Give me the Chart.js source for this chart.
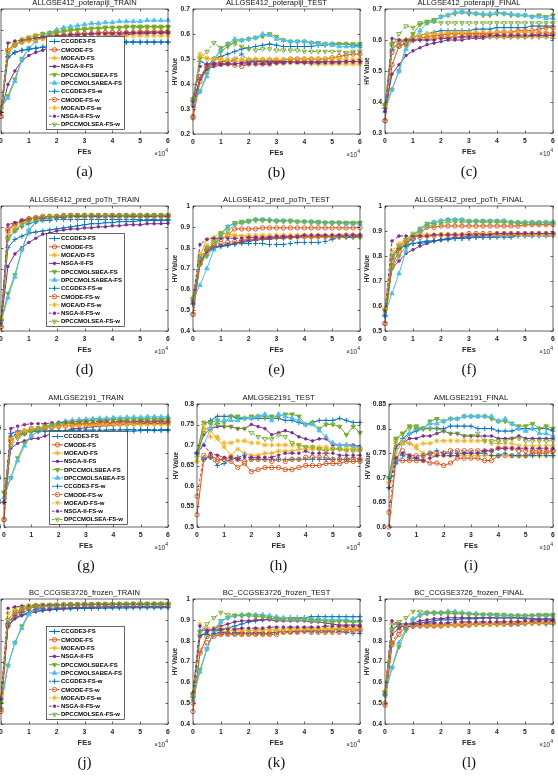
<!DOCTYPE html>
<html>
<head>
<meta charset="utf-8">
<script src="https://cdn.jsdelivr.net/npm/chart.js@4.4.0/dist/chart.umd.min.js"></script>
<style>
html, body { margin: 0; padding: 0; background: #fff; }
body { width: 558px; height: 778px; position: relative; overflow: hidden; }
canvas { position: absolute; }
</style>
</head>
<body>
<script>
// FEs axis (x 10^4)
const fes = [0, 0.25, 0.5, 0.75, 1, 1.25, 1.5, 1.75, 2, 2.25, 2.5, 2.75, 3, 3.25, 3.5, 3.75, 4, 4.25, 4.5, 4.75, 5, 5.25, 5.5, 5.75, 6];

const seriesNames = ['CCGDE3-FS', 'CMODE-FS', 'MOEA/D-FS', 'NSGA-II-FS', 'DPCCMOLSBEA-FS', 'DPCCMOLSABEA-FS',
  'CCGDE3-FS-w', 'CMODE-FS-w', 'MOEA/D-FS-w', 'NSGA-II-FS-w', 'DPCCMOLSEA-FS-w'];

const chartTitles = ['ALLGSE412_poterapiji_TRAIN', 'ALLGSE412_poterapiji_TEST', 'ALLGSE412_poterapiji_FINAL',
  'ALLGSE412_pred_poTh_TRAIN', 'ALLGSE412_pred_poTh_TEST', 'ALLGSE412_pred_poTh_FINAL',
  'AMLGSE2191_TRAIN', 'AMLGSE2191_TEST', 'AMLGSE2191_FINAL',
  'BC_CCGSE3726_frozen_TRAIN', 'BC_CCGSE3726_frozen_TEST', 'BC_CCGSE3726_frozen_FINAL'];
const panelLabels = ['(a)', '(b)', '(c)', '(d)', '(e)', '(f)', '(g)', '(h)', '(i)', '(j)', '(k)', '(l)'];

// y ticks: min, max, step
const yTicks = [[0.3, 0.9, 0.1], [0.2, 0.7, 0.1], [0.3, 0.7, 0.1],
  [0.4, 1, 0.1], [0.4, 1, 0.1], [0.5, 1, 0.1],
  [0.75, 1, 0.05], [0.5, 0.8, 0.05], [0.6, 0.85, 0.05],
  [0.4, 1, 0.1], [0.4, 1, 0.1], [0.4, 1, 0.1]];

// HV values, one row per series (same order as seriesNames)
const hvA = [
  [0.40,0.665,0.69,0.70,0.705, 0.71,0.715,0.72,0.725,0.725, 0.73,0.73,0.735,0.735,0.735, 0.735,0.74,0.74,0.74,0.74, 0.74,0.74,0.74,0.74,0.74],
  [0.38,0.70,0.73,0.745,0.755, 0.76,0.765,0.77,0.77,0.775, 0.775,0.78,0.78,0.78,0.785, 0.785,0.785,0.785,0.785,0.785, 0.79,0.79,0.79,0.79,0.79],
  [0.42,0.70,0.74,0.755,0.765, 0.775,0.78,0.785,0.79,0.795, 0.80,0.80,0.805,0.805,0.81, 0.81,0.81,0.81,0.815,0.815, 0.815,0.815,0.815,0.815,0.815],
  [0.40,0.535,0.60,0.65,0.675, 0.69,0.70,0.715,0.725,0.735, 0.745,0.75,0.755,0.76,0.765, 0.77,0.77,0.775,0.775,0.78, 0.78,0.78,0.785,0.785,0.785],
  [0.42,0.48,0.56,0.66,0.71, 0.745,0.765,0.775,0.785,0.79, 0.795,0.80,0.80,0.805,0.805, 0.81,0.81,0.81,0.815,0.815, 0.815,0.815,0.815,0.815,0.815],
  [0.42,0.47,0.55,0.655,0.71, 0.745,0.77,0.785,0.80,0.81, 0.815,0.82,0.825,0.83,0.83, 0.835,0.835,0.84,0.84,0.84, 0.84,0.845,0.845,0.845,0.845],
  [0.40,0.67,0.69,0.70,0.705, 0.71,0.715,0.72,0.725,0.73, 0.73,0.735,0.735,0.735,0.74, 0.74,0.74,0.74,0.74,0.74, 0.74,0.74,0.74,0.74,0.74],
  [0.38,0.70,0.725,0.74,0.75, 0.755,0.76,0.765,0.77,0.77, 0.775,0.775,0.78,0.78,0.78, 0.785,0.785,0.785,0.785,0.785, 0.785,0.785,0.785,0.785,0.785],
  [0.42,0.70,0.73,0.74,0.745, 0.75,0.755,0.755,0.76,0.76, 0.765,0.765,0.765,0.765,0.77, 0.77,0.77,0.77,0.77,0.77, 0.77,0.77,0.77,0.77,0.77],
  [0.40,0.735,0.745,0.75,0.755, 0.76,0.765,0.765,0.77,0.77, 0.775,0.775,0.775,0.78,0.78, 0.78,0.78,0.78,0.785,0.785, 0.785,0.785,0.785,0.785,0.785],
  [0.42,0.68,0.725,0.745,0.76, 0.77,0.78,0.785,0.79,0.795, 0.80,0.80,0.805,0.805,0.805, 0.81,0.81,0.81,0.81,0.81, 0.81,0.81,0.81,0.81,0.81]
];
const hvB = [
  [0.33,0.42,0.47,0.50,0.51, 0.52,0.53,0.54,0.545,0.55, 0.555,0.56,0.555,0.55,0.55, 0.55,0.55,0.55,0.555,0.555, 0.56,0.56,0.56,0.555,0.555],
  [0.265,0.41,0.46,0.48,0.49, 0.49,0.49,0.49,0.495,0.495, 0.495,0.495,0.495,0.495,0.50, 0.50,0.50,0.50,0.50,0.50, 0.505,0.51,0.515,0.52,0.52],
  [0.32,0.51,0.50,0.50,0.50, 0.49,0.49,0.49,0.49,0.49, 0.485,0.485,0.485,0.485,0.485, 0.485,0.485,0.48,0.48,0.48, 0.48,0.48,0.48,0.48,0.48],
  [0.31,0.42,0.46,0.47,0.475, 0.48,0.48,0.485,0.485,0.49, 0.49,0.49,0.49,0.49,0.49, 0.49,0.49,0.49,0.49,0.49, 0.49,0.49,0.49,0.49,0.49],
  [0.33,0.37,0.44,0.50,0.53, 0.55,0.57,0.575,0.58,0.585, 0.59,0.60,0.59,0.575,0.57, 0.57,0.57,0.565,0.565,0.56, 0.56,0.56,0.56,0.56,0.56],
  [0.32,0.37,0.43,0.50,0.54, 0.56,0.58,0.575,0.58,0.585, 0.60,0.595,0.58,0.575,0.57, 0.57,0.57,0.565,0.56,0.56, 0.555,0.55,0.55,0.55,0.55],
  [0.34,0.49,0.48,0.48,0.48, 0.485,0.50,0.52,0.49,0.49, 0.49,0.485,0.485,0.49,0.49, 0.49,0.485,0.485,0.485,0.49, 0.49,0.49,0.49,0.49,0.49],
  [0.27,0.43,0.47,0.48,0.48, 0.48,0.475,0.47,0.48,0.48, 0.48,0.48,0.485,0.485,0.49, 0.49,0.49,0.49,0.49,0.49, 0.49,0.49,0.49,0.49,0.49],
  [0.33,0.52,0.505,0.50,0.50, 0.50,0.50,0.50,0.50,0.50, 0.50,0.50,0.50,0.50,0.50, 0.50,0.50,0.50,0.50,0.50, 0.50,0.50,0.50,0.50,0.50],
  [0.33,0.47,0.48,0.48,0.48, 0.48,0.48,0.48,0.48,0.48, 0.48,0.48,0.485,0.485,0.485, 0.485,0.485,0.485,0.485,0.485, 0.485,0.485,0.49,0.49,0.49],
  [0.34,0.50,0.53,0.565,0.545, 0.56,0.56,0.55,0.54,0.535, 0.54,0.54,0.535,0.535,0.535, 0.535,0.53,0.53,0.53,0.53, 0.53,0.53,0.525,0.53,0.53]
];
const hvC = [
  [0.38,0.57,0.59,0.60,0.61, 0.615,0.62,0.625,0.63,0.63, 0.63,0.63,0.63,0.635,0.635, 0.635,0.64,0.64,0.64,0.64, 0.64,0.645,0.645,0.645,0.645],
  [0.34,0.52,0.58,0.59,0.60, 0.605,0.61,0.615,0.615,0.62, 0.62,0.62,0.62,0.62,0.62, 0.62,0.625,0.625,0.625,0.63, 0.63,0.63,0.635,0.64,0.64],
  [0.39,0.59,0.60,0.60,0.61, 0.615,0.62,0.62,0.62,0.625, 0.625,0.625,0.625,0.625,0.625, 0.625,0.625,0.625,0.625,0.625, 0.625,0.625,0.625,0.625,0.625],
  [0.37,0.49,0.52,0.55,0.565, 0.575,0.585,0.59,0.595,0.60, 0.60,0.60,0.605,0.605,0.605, 0.61,0.61,0.61,0.61,0.61, 0.61,0.615,0.615,0.615,0.615],
  [0.39,0.44,0.50,0.58,0.62, 0.65,0.66,0.665,0.675,0.68, 0.685,0.69,0.685,0.685,0.68, 0.68,0.685,0.685,0.68,0.68, 0.68,0.675,0.68,0.675,0.68],
  [0.37,0.44,0.50,0.57,0.60, 0.63,0.655,0.66,0.675,0.68, 0.69,0.69,0.69,0.685,0.685, 0.685,0.69,0.685,0.685,0.68, 0.68,0.675,0.675,0.67,0.67],
  [0.38,0.59,0.595,0.60,0.60, 0.60,0.60,0.605,0.605,0.61, 0.61,0.61,0.61,0.61,0.61, 0.61,0.61,0.61,0.61,0.61, 0.61,0.61,0.61,0.61,0.605],
  [0.34,0.56,0.58,0.59,0.60, 0.605,0.605,0.605,0.61,0.61, 0.61,0.61,0.615,0.615,0.615, 0.615,0.615,0.615,0.615,0.615, 0.615,0.615,0.62,0.62,0.62],
  [0.39,0.585,0.595,0.60,0.60, 0.605,0.605,0.605,0.605,0.61, 0.61,0.61,0.61,0.61,0.61, 0.61,0.61,0.61,0.61,0.61, 0.61,0.61,0.61,0.61,0.61],
  [0.37,0.605,0.60,0.60,0.60, 0.60,0.60,0.60,0.605,0.605, 0.605,0.61,0.61,0.61,0.61, 0.615,0.615,0.615,0.615,0.615, 0.615,0.615,0.615,0.615,0.615],
  [0.39,0.58,0.62,0.645,0.64, 0.655,0.655,0.66,0.655,0.655, 0.655,0.655,0.655,0.655,0.655, 0.655,0.655,0.655,0.655,0.655, 0.655,0.655,0.655,0.655,0.655]
];
const hvD = [
  [0.45,0.80,0.84,0.855,0.87, 0.875,0.88,0.885,0.89,0.895, 0.90,0.905,0.91,0.915,0.915, 0.92,0.92,0.925,0.925,0.925, 0.93,0.93,0.93,0.93,0.93],
  [0.42,0.89,0.915,0.93,0.94, 0.945,0.95,0.95,0.95,0.955, 0.955,0.955,0.955,0.955,0.955, 0.955,0.955,0.955,0.955,0.955, 0.955,0.955,0.955,0.955,0.955],
  [0.46,0.84,0.88,0.91,0.925, 0.935,0.94,0.945,0.945,0.95, 0.95,0.95,0.95,0.95,0.95, 0.95,0.95,0.95,0.95,0.95, 0.95,0.95,0.95,0.95,0.95],
  [0.44,0.71,0.77,0.80,0.825, 0.845,0.865,0.87,0.88,0.885, 0.89,0.89,0.895,0.895,0.90, 0.90,0.905,0.905,0.91,0.91, 0.91,0.915,0.915,0.915,0.917],
  [0.45,0.58,0.67,0.79,0.88, 0.925,0.94,0.945,0.95,0.95, 0.955,0.955,0.955,0.955,0.955, 0.955,0.955,0.955,0.955,0.955, 0.955,0.955,0.955,0.955,0.955],
  [0.44,0.56,0.66,0.79,0.885, 0.925,0.935,0.94,0.945,0.945, 0.95,0.95,0.95,0.95,0.95, 0.95,0.95,0.95,0.95,0.95, 0.95,0.95,0.95,0.95,0.95],
  [0.45,0.85,0.88,0.90,0.915, 0.925,0.93,0.93,0.935,0.935, 0.935,0.935,0.935,0.935,0.935, 0.935,0.935,0.935,0.935,0.935, 0.935,0.935,0.935,0.935,0.935],
  [0.42,0.88,0.91,0.925,0.935, 0.94,0.945,0.95,0.95,0.95, 0.953,0.953,0.953,0.953,0.953, 0.953,0.953,0.953,0.953,0.953, 0.953,0.953,0.953,0.953,0.953],
  [0.46,0.86,0.895,0.915,0.93, 0.935,0.94,0.945,0.945,0.945, 0.948,0.948,0.948,0.948,0.948, 0.948,0.948,0.948,0.948,0.948, 0.948,0.948,0.948,0.948,0.948],
  [0.44,0.91,0.92,0.93,0.935, 0.94,0.94,0.945,0.945,0.945, 0.95,0.95,0.95,0.95,0.95, 0.95,0.95,0.95,0.95,0.95, 0.95,0.95,0.95,0.95,0.95],
  [0.45,0.84,0.885,0.91,0.93, 0.94,0.945,0.945,0.95,0.95, 0.955,0.955,0.955,0.955,0.955, 0.955,0.955,0.955,0.955,0.955, 0.955,0.955,0.955,0.955,0.955]
];
const hvE = [
  [0.53,0.72,0.78,0.80,0.805, 0.81,0.82,0.825,0.83,0.835, 0.84,0.84,0.845,0.845,0.85, 0.85,0.85,0.85,0.85,0.855, 0.855,0.855,0.855,0.855,0.855],
  [0.48,0.72,0.79,0.82,0.84, 0.86,0.89,0.89,0.89,0.89, 0.895,0.895,0.895,0.895,0.895, 0.895,0.895,0.895,0.895,0.895, 0.895,0.895,0.895,0.895,0.897],
  [0.56,0.76,0.84,0.85,0.87, 0.865,0.86,0.855,0.85,0.85, 0.85,0.85,0.85,0.85,0.85, 0.85,0.85,0.85,0.85,0.85, 0.85,0.85,0.85,0.85,0.85],
  [0.54,0.73,0.78,0.80,0.81, 0.815,0.82,0.83,0.835,0.84, 0.845,0.845,0.85,0.85,0.85, 0.85,0.855,0.855,0.855,0.855, 0.855,0.855,0.855,0.855,0.855],
  [0.55,0.72,0.76,0.80,0.87, 0.90,0.92,0.925,0.93,0.935, 0.935,0.93,0.93,0.93,0.93, 0.925,0.925,0.925,0.925,0.92, 0.92,0.92,0.92,0.92,0.92],
  [0.55,0.62,0.70,0.79,0.86, 0.90,0.915,0.92,0.925,0.935, 0.935,0.935,0.93,0.93,0.93, 0.925,0.925,0.925,0.92,0.92, 0.92,0.92,0.915,0.915,0.915],
  [0.53,0.75,0.79,0.80,0.81, 0.815,0.815,0.82,0.82,0.82, 0.82,0.815,0.815,0.815,0.82, 0.825,0.825,0.825,0.825,0.83, 0.84,0.85,0.85,0.85,0.85],
  [0.48,0.73,0.79,0.81,0.82, 0.825,0.83,0.835,0.84,0.845, 0.845,0.85,0.85,0.85,0.85, 0.855,0.855,0.855,0.855,0.855, 0.855,0.855,0.86,0.86,0.86],
  [0.56,0.77,0.81,0.84,0.85, 0.85,0.855,0.855,0.86,0.86, 0.86,0.86,0.86,0.86,0.86, 0.86,0.86,0.86,0.86,0.86, 0.86,0.86,0.86,0.86,0.86],
  [0.54,0.815,0.84,0.845,0.845, 0.845,0.845,0.845,0.85,0.85, 0.85,0.85,0.855,0.855,0.855, 0.855,0.86,0.86,0.86,0.86, 0.86,0.86,0.86,0.86,0.86],
  [0.55,0.75,0.80,0.83,0.86, 0.88,0.91,0.92,0.925,0.93, 0.93,0.93,0.925,0.925,0.925, 0.925,0.925,0.92,0.92,0.92, 0.92,0.92,0.92,0.92,0.92]
];
const hvF = [
  [0.56,0.80,0.83,0.845,0.85, 0.855,0.86,0.86,0.865,0.865, 0.87,0.87,0.875,0.875,0.875, 0.875,0.88,0.88,0.88,0.885, 0.885,0.885,0.89,0.89,0.89],
  [0.53,0.76,0.82,0.85,0.87, 0.89,0.915,0.915,0.92,0.92, 0.92,0.92,0.92,0.92,0.92, 0.92,0.92,0.92,0.92,0.92, 0.925,0.925,0.925,0.925,0.925],
  [0.59,0.80,0.84,0.86,0.88, 0.885,0.885,0.885,0.885,0.885, 0.885,0.885,0.885,0.885,0.885, 0.885,0.885,0.885,0.885,0.885, 0.885,0.885,0.885,0.885,0.885],
  [0.58,0.75,0.78,0.81,0.825, 0.84,0.85,0.86,0.865,0.87, 0.875,0.875,0.88,0.88,0.88, 0.885,0.885,0.885,0.885,0.885, 0.89,0.89,0.89,0.89,0.89],
  [0.58,0.75,0.80,0.84,0.88, 0.91,0.93,0.935,0.94,0.945, 0.945,0.945,0.94,0.94,0.94, 0.94,0.94,0.94,0.935,0.935, 0.935,0.935,0.935,0.935,0.935],
  [0.57,0.65,0.73,0.82,0.87, 0.905,0.925,0.935,0.94,0.945, 0.945,0.945,0.94,0.94,0.94, 0.94,0.94,0.94,0.935,0.935, 0.935,0.935,0.935,0.935,0.935],
  [0.56,0.79,0.83,0.84,0.85, 0.85,0.855,0.86,0.865,0.87, 0.87,0.87,0.87,0.875,0.875, 0.875,0.875,0.875,0.875,0.88, 0.88,0.88,0.88,0.88,0.88],
  [0.53,0.78,0.83,0.86,0.87, 0.875,0.88,0.88,0.885,0.885, 0.885,0.885,0.89,0.89,0.89, 0.89,0.89,0.89,0.89,0.89, 0.89,0.89,0.89,0.89,0.89],
  [0.59,0.82,0.85,0.87,0.88, 0.88,0.885,0.885,0.885,0.885, 0.885,0.885,0.885,0.885,0.885, 0.885,0.885,0.885,0.885,0.885, 0.885,0.885,0.885,0.885,0.885],
  [0.58,0.86,0.88,0.88,0.88, 0.88,0.88,0.885,0.885,0.885, 0.885,0.885,0.885,0.885,0.885, 0.885,0.89,0.89,0.89,0.89, 0.89,0.89,0.89,0.89,0.89],
  [0.58,0.80,0.84,0.865,0.89, 0.90,0.92,0.925,0.93,0.935, 0.935,0.935,0.935,0.935,0.935, 0.935,0.935,0.935,0.935,0.93, 0.93,0.93,0.93,0.93,0.93]
];
const hvG = [
  [0.80,0.94,0.945,0.945,0.945, 0.945,0.945,0.945,0.945,0.945, 0.945,0.945,0.945,0.945,0.945, 0.945,0.945,0.945,0.945,0.945, 0.946,0.946,0.946,0.946,0.946],
  [0.765,0.93,0.94,0.945,0.95, 0.95,0.955,0.955,0.955,0.96, 0.96,0.96,0.96,0.96,0.962, 0.962,0.962,0.964,0.964,0.964, 0.965,0.965,0.965,0.965,0.965],
  [0.80,0.93,0.94,0.945,0.95, 0.95,0.955,0.955,0.955,0.957, 0.957,0.957,0.958,0.958,0.958, 0.958,0.959,0.959,0.959,0.959, 0.959,0.959,0.959,0.959,0.959],
  [0.80,0.91,0.92,0.925,0.93, 0.93,0.935,0.94,0.945,0.945, 0.95,0.95,0.952,0.954,0.955, 0.956,0.957,0.958,0.958,0.959, 0.96,0.96,0.96,0.96,0.96],
  [0.82,0.85,0.89,0.92,0.935, 0.945,0.95,0.955,0.96,0.962, 0.964,0.965,0.966,0.967,0.968, 0.968,0.969,0.969,0.97,0.97, 0.97,0.97,0.97,0.97,0.97],
  [0.81,0.85,0.885,0.915,0.935, 0.945,0.952,0.958,0.962,0.965, 0.967,0.968,0.969,0.97,0.971, 0.971,0.972,0.972,0.973,0.973, 0.973,0.974,0.974,0.974,0.974],
  [0.80,0.935,0.94,0.94,0.945, 0.945,0.945,0.946,0.946,0.946, 0.947,0.947,0.947,0.947,0.947, 0.947,0.948,0.948,0.948,0.948, 0.948,0.948,0.948,0.948,0.948],
  [0.765,0.925,0.935,0.94,0.945, 0.95,0.95,0.952,0.955,0.955, 0.957,0.958,0.958,0.96,0.96, 0.96,0.96,0.96,0.962,0.962, 0.962,0.962,0.962,0.962,0.962],
  [0.80,0.93,0.94,0.945,0.948, 0.95,0.952,0.953,0.954,0.955, 0.955,0.956,0.956,0.957,0.957, 0.957,0.958,0.958,0.958,0.958, 0.958,0.958,0.958,0.958,0.958],
  [0.80,0.95,0.955,0.958,0.96, 0.96,0.96,0.962,0.962,0.963, 0.963,0.964,0.964,0.964,0.965, 0.965,0.965,0.965,0.965,0.965, 0.965,0.965,0.965,0.965,0.965],
  [0.82,0.915,0.93,0.94,0.945, 0.95,0.955,0.958,0.96,0.962, 0.963,0.964,0.965,0.965,0.966, 0.966,0.967,0.967,0.967,0.967, 0.968,0.968,0.968,0.968,0.968]
];
const hvH = [
  [0.68,0.75,0.76,0.77,0.77, 0.77,0.765,0.765,0.765,0.765, 0.765,0.765,0.765,0.76,0.76, 0.755,0.75,0.755,0.76,0.76, 0.76,0.765,0.76,0.755,0.755],
  [0.53,0.665,0.675,0.665,0.665, 0.66,0.645,0.655,0.635,0.64, 0.645,0.645,0.645,0.64,0.64, 0.645,0.65,0.65,0.65,0.655, 0.655,0.655,0.66,0.66,0.66],
  [0.66,0.74,0.735,0.715,0.695, 0.675,0.69,0.68,0.675,0.675, 0.68,0.68,0.685,0.685,0.685, 0.69,0.69,0.69,0.69,0.69, 0.69,0.69,0.69,0.69,0.69],
  [0.68,0.725,0.74,0.745,0.745, 0.745,0.74,0.74,0.75,0.745, 0.74,0.725,0.73,0.735,0.73, 0.72,0.715,0.71,0.715,0.715, 0.70,0.70,0.70,0.70,0.695],
  [0.68,0.755,0.755,0.76,0.755, 0.77,0.77,0.765,0.77,0.77, 0.77,0.77,0.77,0.775,0.775, 0.77,0.75,0.755,0.74,0.75, 0.75,0.745,0.725,0.745,0.73],
  [0.68,0.70,0.74,0.755,0.76, 0.76,0.76,0.765,0.765,0.77, 0.775,0.76,0.775,0.77,0.765, 0.76,0.75,0.75,0.735,0.72, 0.705,0.70,0.70,0.695,0.695],
  [0.68,0.665,0.67,0.65,0.655, 0.665,0.67,0.675,0.665,0.665, 0.665,0.665,0.665,0.665,0.665, 0.665,0.665,0.665,0.665,0.665, 0.665,0.665,0.665,0.67,0.665],
  [0.575,0.675,0.67,0.66,0.665, 0.67,0.665,0.66,0.665,0.665, 0.665,0.66,0.665,0.66,0.665, 0.665,0.67,0.67,0.67,0.67, 0.665,0.665,0.665,0.665,0.665],
  [0.66,0.75,0.72,0.72,0.705, 0.705,0.71,0.71,0.705,0.705, 0.70,0.70,0.70,0.70,0.70, 0.70,0.695,0.695,0.695,0.695, 0.69,0.69,0.69,0.69,0.69],
  [0.68,0.70,0.68,0.675,0.67, 0.67,0.665,0.67,0.67,0.67, 0.67,0.67,0.675,0.68,0.68, 0.68,0.685,0.68,0.68,0.68, 0.68,0.675,0.675,0.675,0.675],
  [0.67,0.73,0.75,0.75,0.745, 0.745,0.74,0.74,0.73,0.72, 0.715,0.715,0.725,0.72,0.705, 0.70,0.695,0.695,0.69,0.685, 0.69,0.69,0.685,0.685,0.685]
];
const hvI = [
  [0.68,0.76,0.78,0.79,0.795, 0.80,0.80,0.80,0.80,0.805, 0.805,0.805,0.805,0.80,0.80, 0.80,0.795,0.795,0.795,0.80, 0.80,0.80,0.80,0.80,0.795],
  [0.60,0.735,0.735,0.735,0.735, 0.735,0.73,0.73,0.725,0.73, 0.74,0.74,0.74,0.74,0.735, 0.735,0.745,0.745,0.745,0.745, 0.745,0.75,0.75,0.75,0.755],
  [0.69,0.75,0.775,0.77,0.76, 0.75,0.745,0.745,0.745,0.745, 0.745,0.745,0.745,0.745,0.745, 0.745,0.745,0.745,0.745,0.745, 0.745,0.745,0.745,0.745,0.745],
  [0.70,0.765,0.77,0.78,0.78, 0.785,0.785,0.79,0.795,0.79, 0.79,0.785,0.785,0.785,0.785, 0.785,0.78,0.78,0.78,0.785, 0.78,0.78,0.78,0.78,0.78],
  [0.70,0.78,0.79,0.805,0.805, 0.80,0.815,0.82,0.815,0.82, 0.82,0.825,0.825,0.825,0.825, 0.82,0.815,0.815,0.81,0.805, 0.805,0.81,0.80,0.805,0.80],
  [0.70,0.73,0.77,0.79,0.80, 0.80,0.81,0.81,0.815,0.82, 0.82,0.825,0.825,0.825,0.825, 0.825,0.815,0.82,0.81,0.80, 0.795,0.80,0.79,0.79,0.785],
  [0.68,0.73,0.745,0.74,0.74, 0.745,0.75,0.755,0.75,0.75, 0.75,0.75,0.75,0.75,0.75, 0.745,0.745,0.75,0.745,0.745, 0.745,0.745,0.745,0.745,0.745],
  [0.63,0.74,0.755,0.745,0.745, 0.745,0.75,0.75,0.75,0.755, 0.755,0.755,0.755,0.755,0.755, 0.755,0.76,0.76,0.76,0.755, 0.755,0.755,0.755,0.755,0.755],
  [0.69,0.77,0.77,0.77,0.765, 0.77,0.77,0.775,0.775,0.775, 0.775,0.775,0.775,0.775,0.775, 0.77,0.77,0.77,0.77,0.765, 0.765,0.765,0.765,0.765,0.765],
  [0.68,0.74,0.75,0.745,0.74, 0.735,0.74,0.745,0.745,0.745, 0.745,0.75,0.75,0.75,0.755, 0.755,0.76,0.76,0.76,0.76, 0.76,0.76,0.76,0.76,0.76],
  [0.70,0.775,0.79,0.80,0.80, 0.80,0.80,0.80,0.795,0.79, 0.79,0.785,0.785,0.79,0.775, 0.775,0.775,0.775,0.78,0.78, 0.775,0.775,0.775,0.775,0.775]
];
const hvJ = [
  [0.52,0.87,0.91,0.925,0.935, 0.94,0.945,0.948,0.95,0.952, 0.953,0.954,0.955,0.955,0.956, 0.956,0.957,0.957,0.957,0.958, 0.958,0.958,0.958,0.958,0.958],
  [0.46,0.88,0.93,0.95,0.96, 0.965,0.967,0.969,0.97,0.971, 0.972,0.972,0.973,0.973,0.974, 0.974,0.974,0.975,0.975,0.975, 0.975,0.975,0.975,0.975,0.975],
  [0.53,0.90,0.94,0.955,0.962, 0.966,0.969,0.97,0.971,0.972, 0.973,0.973,0.974,0.974,0.974, 0.975,0.975,0.975,0.975,0.975, 0.975,0.975,0.975,0.975,0.975],
  [0.52,0.87,0.905,0.92,0.93, 0.94,0.945,0.95,0.952,0.955, 0.957,0.958,0.96,0.96,0.961, 0.962,0.962,0.963,0.963,0.963, 0.964,0.964,0.964,0.964,0.964],
  [0.50,0.68,0.79,0.87,0.93, 0.955,0.965,0.968,0.97,0.972, 0.973,0.974,0.975,0.975,0.976, 0.976,0.977,0.977,0.977,0.978, 0.978,0.978,0.978,0.978,0.978],
  [0.48,0.68,0.79,0.86,0.925, 0.95,0.962,0.966,0.969,0.971, 0.972,0.973,0.974,0.974,0.975, 0.975,0.976,0.976,0.976,0.977, 0.977,0.977,0.977,0.977,0.977],
  [0.52,0.88,0.92,0.935,0.945, 0.95,0.953,0.955,0.957,0.958, 0.959,0.96,0.96,0.961,0.961, 0.962,0.962,0.962,0.963,0.963, 0.963,0.963,0.963,0.963,0.963],
  [0.47,0.87,0.925,0.945,0.955, 0.962,0.965,0.967,0.968,0.969, 0.97,0.971,0.971,0.972,0.972, 0.972,0.973,0.973,0.973,0.973, 0.973,0.973,0.973,0.973,0.973],
  [0.53,0.93,0.955,0.965,0.97, 0.972,0.973,0.974,0.974,0.975, 0.975,0.975,0.975,0.975,0.976, 0.976,0.976,0.976,0.976,0.976, 0.976,0.976,0.976,0.976,0.976],
  [0.52,0.955,0.962,0.966,0.968, 0.97,0.971,0.972,0.972,0.973, 0.973,0.973,0.974,0.974,0.974, 0.974,0.974,0.974,0.975,0.975, 0.975,0.975,0.975,0.975,0.975],
  [0.50,0.90,0.94,0.958,0.965, 0.969,0.971,0.972,0.973,0.974, 0.975,0.975,0.976,0.976,0.976, 0.977,0.977,0.977,0.977,0.977, 0.977,0.977,0.977,0.977,0.977]
];
const hvK = [
  [0.53,0.85,0.85,0.85,0.85, 0.86,0.87,0.88,0.89,0.895, 0.90,0.905,0.905,0.905,0.91, 0.91,0.91,0.915,0.915,0.915, 0.915,0.915,0.915,0.915,0.915],
  [0.46,0.74,0.82,0.83,0.835, 0.835,0.835,0.835,0.835,0.835, 0.835,0.835,0.84,0.845,0.845, 0.845,0.85,0.85,0.85,0.85, 0.85,0.855,0.855,0.855,0.855],
  [0.54,0.82,0.85,0.845,0.84, 0.845,0.85,0.85,0.85,0.85, 0.855,0.855,0.855,0.855,0.86, 0.86,0.86,0.86,0.86,0.86, 0.86,0.86,0.86,0.865,0.865],
  [0.55,0.82,0.84,0.86,0.87, 0.88,0.89,0.895,0.895,0.90, 0.90,0.90,0.895,0.895,0.895, 0.895,0.895,0.89,0.89,0.885, 0.88,0.875,0.875,0.875,0.875],
  [0.54,0.66,0.76,0.85,0.895, 0.91,0.92,0.92,0.92,0.915, 0.915,0.91,0.905,0.905,0.905, 0.905,0.905,0.90,0.90,0.895, 0.895,0.895,0.895,0.89,0.89],
  [0.52,0.65,0.76,0.84,0.89, 0.91,0.92,0.925,0.925,0.925, 0.925,0.92,0.915,0.91,0.905, 0.905,0.905,0.90,0.90,0.90, 0.90,0.90,0.90,0.895,0.895],
  [0.53,0.83,0.83,0.835,0.84, 0.84,0.84,0.84,0.84,0.84, 0.84,0.84,0.84,0.845,0.845, 0.845,0.845,0.845,0.845,0.845, 0.845,0.845,0.84,0.835,0.835],
  [0.50,0.75,0.79,0.82,0.83, 0.83,0.83,0.83,0.83,0.83, 0.83,0.83,0.83,0.84,0.84, 0.84,0.845,0.84,0.84,0.84, 0.84,0.84,0.845,0.845,0.85],
  [0.54,0.88,0.86,0.86,0.86, 0.86,0.855,0.85,0.85,0.85, 0.85,0.85,0.85,0.85,0.85, 0.855,0.855,0.855,0.855,0.855, 0.855,0.86,0.86,0.86,0.86],
  [0.55,0.87,0.85,0.855,0.855, 0.855,0.855,0.86,0.86,0.86, 0.86,0.865,0.865,0.865,0.865, 0.865,0.865,0.865,0.865,0.87, 0.87,0.87,0.87,0.87,0.87],
  [0.54,0.84,0.88,0.91,0.935, 0.925,0.92,0.92,0.925,0.92, 0.915,0.91,0.905,0.90,0.90, 0.90,0.90,0.895,0.895,0.89, 0.89,0.89,0.89,0.89,0.89]
];
const hvL = [
  [0.54,0.88,0.88,0.88,0.88, 0.885,0.89,0.895,0.90,0.90, 0.90,0.905,0.905,0.905,0.91, 0.91,0.91,0.91,0.91,0.91, 0.905,0.905,0.90,0.90,0.90],
  [0.49,0.78,0.83,0.865,0.87, 0.87,0.87,0.87,0.87,0.875, 0.875,0.875,0.875,0.88,0.88, 0.88,0.88,0.88,0.88,0.88, 0.885,0.885,0.885,0.885,0.885],
  [0.55,0.85,0.875,0.875,0.875, 0.88,0.88,0.88,0.88,0.88, 0.88,0.885,0.885,0.885,0.885, 0.885,0.885,0.89,0.89,0.89, 0.89,0.89,0.89,0.89,0.89],
  [0.55,0.83,0.86,0.875,0.885, 0.895,0.90,0.905,0.905,0.91, 0.91,0.91,0.91,0.91,0.91, 0.91,0.91,0.91,0.91,0.91, 0.91,0.905,0.905,0.905,0.905],
  [0.55,0.67,0.77,0.85,0.90, 0.92,0.93,0.93,0.93,0.93, 0.93,0.93,0.93,0.925,0.925, 0.925,0.925,0.92,0.92,0.92, 0.92,0.92,0.925,0.925,0.925],
  [0.54,0.67,0.79,0.86,0.905, 0.925,0.935,0.935,0.935,0.94, 0.94,0.935,0.93,0.93,0.925, 0.925,0.92,0.92,0.92,0.92, 0.92,0.92,0.92,0.92,0.92],
  [0.54,0.86,0.87,0.87,0.87, 0.875,0.875,0.875,0.875,0.875, 0.875,0.875,0.88,0.88,0.88, 0.88,0.88,0.88,0.88,0.88, 0.88,0.885,0.885,0.88,0.88],
  [0.50,0.79,0.85,0.865,0.87, 0.875,0.875,0.875,0.875,0.875, 0.875,0.875,0.875,0.88,0.88, 0.88,0.88,0.88,0.88,0.885, 0.885,0.885,0.885,0.885,0.89],
  [0.56,0.88,0.88,0.875,0.875, 0.875,0.875,0.875,0.875,0.875, 0.875,0.88,0.88,0.88,0.88, 0.88,0.88,0.88,0.885,0.885, 0.885,0.885,0.885,0.885,0.885],
  [0.55,0.895,0.88,0.88,0.88, 0.88,0.885,0.885,0.885,0.885, 0.89,0.89,0.89,0.89,0.89, 0.89,0.89,0.89,0.89,0.89, 0.895,0.895,0.895,0.895,0.895],
  [0.55,0.85,0.89,0.91,0.94, 0.94,0.935,0.935,0.935,0.935, 0.93,0.93,0.925,0.925,0.925, 0.925,0.925,0.925,0.92,0.92, 0.92,0.92,0.92,0.92,0.92]
];
const hvAll = [hvA, hvB, hvC, hvD, hvE, hvF, hvG, hvH, hvI, hvJ, hvK, hvL];

// plot-area rectangles in page pixels: left, right, top, bottom
const plotBoxes = [
  [1, 168, 9, 133], [193, 360, 9, 134], [385, 553, 9, 133],
  [1, 168, 206, 331], [193, 360, 206, 331], [385, 553, 206, 331],
  [4, 168, 404, 527], [197, 360, 404, 527], [389, 553, 404, 527],
  [1, 168, 599, 724], [193, 360, 599, 724], [385, 553, 599, 724]
];

// MATLAB-like line styles
const lineColors = ['#0072BD', '#D95319', '#EDB120', '#7E2F8E', '#77AC30', '#4DBEEE',
  '#0072BD', '#D95319', '#EDB120', '#7E2F8E', '#77AC30'];
const markers = ['cross', 'circle', 'star', 'circle', 'triangle', 'triangle', 'cross', 'circle', 'star', 'circle', 'triangle'];
const markerRot = [0, 0, 0, 0, 180, 0, 0, 0, 0, 0, 180];
const markerSize = [2.6, 2.2, 2.6, 1.3, 2.6, 2.6, 2.6, 2.2, 2.6, 1.3, 2.6];
const markerFilled = [false, false, false, true, true, true, false, false, false, true, false];

const FONT = '"Liberation Sans", Arial, sans-serif';
const AX = '#262626';

function fmt(v) { return String(parseFloat(v.toFixed(2))); }

const framePlugin = {
  id: 'frame',
  afterDraw(chart, args, o) {
    const {ctx, chartArea: a, scales} = chart;
    const xs = scales.x, ys = scales.y;
    ctx.save();
    ctx.strokeStyle = AX;
    ctx.lineWidth = 0.7;
    ctx.strokeRect(a.left, a.top, a.right - a.left, a.bottom - a.top);
    ctx.beginPath();
    xs.ticks.forEach(t => {
      const p = Math.round(xs.getPixelForValue(t.value)) + 0.5;
      ctx.moveTo(p, a.bottom); ctx.lineTo(p, a.bottom - 2.5);
      ctx.moveTo(p, a.top); ctx.lineTo(p, a.top + 2.5);
    });
    ys.ticks.forEach(t => {
      const p = Math.round(ys.getPixelForValue(t.value)) + 0.5;
      ctx.moveTo(a.left, p); ctx.lineTo(a.left + 2.5, p);
      ctx.moveTo(a.right, p); ctx.lineTo(a.right - 2.5, p);
    });
    ctx.stroke();

    const mid = (a.left + a.right) / 2;
    ctx.fillStyle = '#111';
    ctx.textAlign = 'center';
    ctx.textBaseline = 'middle';
    ctx.font = '7.6px ' + FONT;
    ctx.fillText(o.title, mid, a.top - 6);

    ctx.fillStyle = AX;
    ctx.font = 'bold 7.5px ' + FONT;
    ctx.fillText('FEs', mid, a.bottom + 19);

    // x10^4 multiplier
    ctx.font = '6.5px ' + FONT;
    ctx.textAlign = 'right';
    ctx.font = '5px ' + FONT;
    const w4 = ctx.measureText('4').width;
    ctx.fillText('4', a.right, a.bottom + 18);
    ctx.font = '6.5px ' + FONT;
    ctx.fillText('\u00d710', a.right - w4, a.bottom + 21);

    // y label
    ctx.font = 'bold 6.8px ' + FONT;
    let tw = 0;
    ys.ticks.forEach(t => { tw = Math.max(tw, ctx.measureText(fmt(t.value)).width); });
    ctx.save();
    ctx.translate(a.left - 3 - tw - 5, (a.top + a.bottom) / 2);
    ctx.rotate(-Math.PI / 2);
    ctx.textAlign = 'center';
    ctx.font = 'bold 6.4px ' + FONT;
    ctx.fillText('HV Value', 0, 0);
    ctx.restore();

    // panel label
    ctx.fillStyle = '#111';
    ctx.textAlign = 'center';
    ctx.font = '15px "Liberation Serif", "Times New Roman", serif';
    ctx.fillText(o.label, mid, a.bottom + 39);

    if (o.legend) drawLegend(ctx, a);
    ctx.restore();
  }
};

function drawLegend(ctx, a) {
  const bx = a.left + 45, by = a.top + 27, bw = 78, bh = 93;
  ctx.fillStyle = '#fff';
  ctx.fillRect(bx, by, bw, bh);
  ctx.strokeStyle = AX;
  ctx.lineWidth = 0.7;
  ctx.strokeRect(bx + 0.5, by + 0.5, bw, bh);
  ctx.textAlign = 'left';
  ctx.textBaseline = 'middle';
  seriesNames.forEach((name, i) => {
    const y = by + 5.5 + i * 8.3;
    ctx.strokeStyle = lineColors[i];
    ctx.lineWidth = 1;
    ctx.setLineDash(i >= 6 ? [2.5, 1.5] : []);
    ctx.beginPath();
    ctx.moveTo(bx + 3, y); ctx.lineTo(bx + 14, y);
    ctx.stroke();
    ctx.setLineDash([]);
    if (Chart.helpers && Chart.helpers.drawPoint) {
      ctx.fillStyle = markerFilled[i] ? lineColors[i] : 'rgba(255,255,255,0)';
      ctx.lineWidth = 0.9;
      Chart.helpers.drawPoint(ctx, {pointStyle: markers[i], rotation: markerRot[i], radius: markerSize[i], borderWidth: 0.9}, bx + 8.5, y);
    }
    ctx.fillStyle = '#000';
    ctx.font = 'bold 6px ' + FONT;
    ctx.fillText(name, bx + 15, y + 0.3);
  });
}

hvAll.forEach((rows, p) => {
  const [L, R, T, B] = plotBoxes[p];
  const [ymin, ymax, ystep] = yTicks[p];
  const cv = document.createElement('canvas');
  const W = R - L + 38, H = B - T + 60;
  cv.width = W; cv.height = H;
  cv.style.left = (L - 30) + 'px';
  cv.style.top = (T - 10) + 'px';
  cv.style.width = W + 'px';
  cv.style.height = H + 'px';
  document.body.appendChild(cv);

  const datasets = rows.map((vals, i) => ({
    label: seriesNames[i],
    data: vals.map((v, k) => ({x: fes[k], y: v})),
    borderColor: lineColors[i],
    backgroundColor: lineColors[i],
    borderWidth: 1,
    borderDash: i >= 6 ? [3, 2] : [],
    pointStyle: markers[i],
    pointRotation: markerRot[i],
    pointRadius: markerSize[i],
    pointBorderWidth: 0.9,
    pointBorderColor: lineColors[i],
    pointBackgroundColor: markerFilled[i] ? lineColors[i] : 'rgba(255,255,255,0)',
    tension: 0,
    clip: 6,
    order: 20 - i
  }));

  new Chart(cv, {
    type: 'line',
    data: {datasets},
    plugins: [framePlugin],
    options: {
      responsive: false,
      animation: false,
      devicePixelRatio: 1,
      layout: {padding: {left: 0, top: 10, right: 8, bottom: 0}},
      plugins: {
        legend: {display: false},
        tooltip: {enabled: false},
        frame: {title: chartTitles[p], label: panelLabels[p], legend: p % 3 === 0}
      },
      scales: {
        x: {
          type: 'linear', min: 0, max: 6,
          border: {display: false},
          grid: {display: false, drawTicks: false},
          ticks: {stepSize: 1, padding: 4, color: AX, maxRotation: 0, autoSkip: false,
            font: {family: FONT, size: 6.8, weight: 'bold'}},
          afterFit: s => { s.height = 50; }
        },
        y: {
          type: 'linear', min: ymin, max: ymax,
          border: {display: false},
          grid: {display: false, drawTicks: false},
          ticks: {stepSize: ystep, padding: 3, color: AX, autoSkip: false, callback: v => fmt(v),
            font: {family: FONT, size: 6.8, weight: 'bold'}},
          afterFit: s => { s.width = 30; }
        }
      }
    }
  });
});
</script>
</body>
</html>
